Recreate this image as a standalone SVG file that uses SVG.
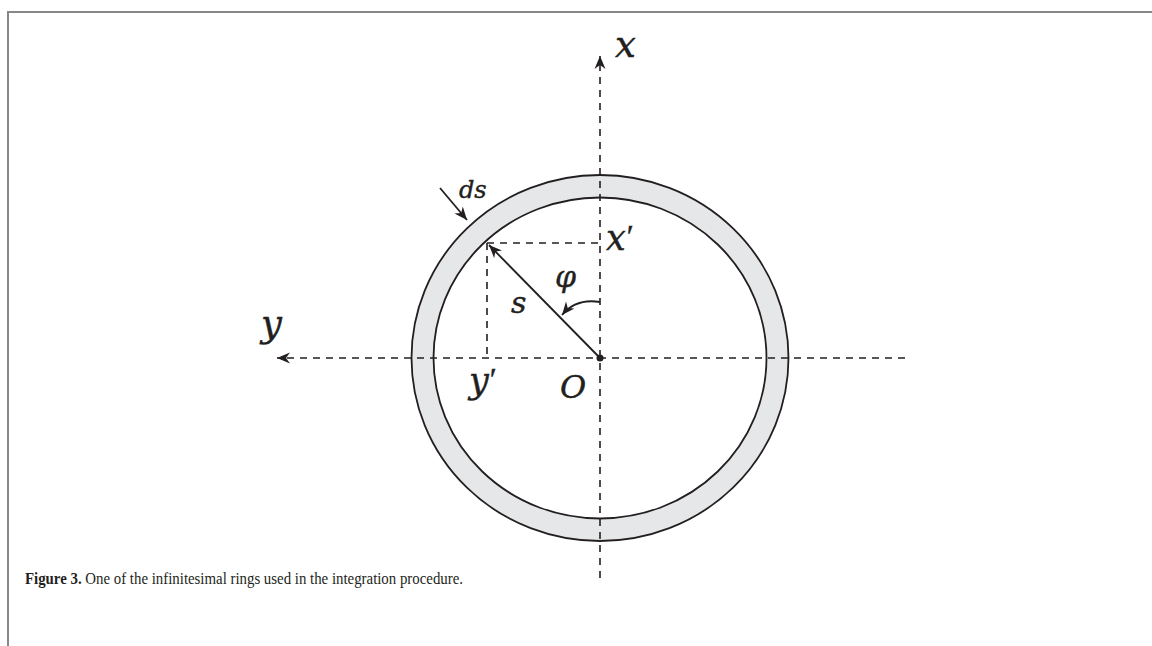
<svg xmlns="http://www.w3.org/2000/svg" width="1152" height="646" viewBox="0 0 1152 646">
<style>
.lbl{font-family:"DejaVu Serif","Liberation Serif",serif;font-style:italic;fill:#231f20;stroke:#231f20;stroke-width:0.4}
.pr{font-family:"Liberation Serif","DejaVu Serif",serif;font-style:normal}
.dash{stroke:#231f20;stroke-width:1.6;stroke-dasharray:7 6;fill:none}
.solid{stroke:#231f20;stroke-width:1.8;fill:none}
.cap{font-family:"Liberation Serif","DejaVu Serif",serif;font-size:16px;fill:#231f20}
</style>
<defs>
<marker id="ah" viewBox="-14 -6 16 12" refX="0" refY="0" markerWidth="16" markerHeight="12" markerUnits="userSpaceOnUse" orient="auto">
<path d="M0,0 L-13,-5.5 L-9,0 L-13,5.5 Z" fill="#231f20"/>
</marker>
</defs>
<rect width="1152" height="646" fill="#fff"/>
<path d="M8,646 V12 H1152" fill="none" stroke="#888" stroke-width="2"/>
<g id="ring">
<path d="M411.5,358 a188.5,183 0 1,0 377,0 a188.5,183 0 1,0 -377,0 Z M433.5,358 a166.5,160.5 0 1,0 333,0 a166.5,160.5 0 1,0 -333,0 Z" fill="#e6e7e8" fill-rule="evenodd"/>
<ellipse cx="600" cy="358" rx="188.5" ry="183" class="solid"/>
<ellipse cx="600" cy="358" rx="166.5" ry="160.5" class="solid"/>
</g>
<g id="connectors">
<line x1="600" y1="578" x2="600" y2="56" class="dash" marker-end="url(#ah)"/>
<line x1="905" y1="358" x2="277" y2="358" class="dash" marker-end="url(#ah)"/>
<line x1="487" y1="243" x2="600" y2="243" class="dash"/>
<line x1="487" y1="243" x2="487" y2="358" class="dash"/>
<line x1="600" y1="358" x2="489" y2="245" class="solid" marker-end="url(#ah)"/>
<path d="M600,302 Q576,298 562,315" class="solid" marker-end="url(#ah)"/>
<line x1="440" y1="188" x2="467" y2="220" class="solid" marker-end="url(#ah)"/>
</g>
<circle id="origin" cx="600" cy="358" r="3.5" fill="#231f20"/>
<g id="labels">
<text class="lbl" x="615" y="57" font-size="37">x</text>
<text class="lbl" x="261" y="336" font-size="37">y</text>
<text class="lbl" x="606" y="250" font-size="35">x<tspan class="pr" dx="1" dy="-3" font-size="32">′</tspan></text>
<text class="lbl" x="469" y="393" font-size="35">y<tspan class="pr" dx="1" dy="-3" font-size="32">′</tspan></text>
<text class="lbl" x="560" y="398" font-size="32">O</text>
<text class="lbl" x="555" y="287" font-size="30">φ</text>
<text class="lbl" x="511" y="313" font-size="30">s</text>
<text class="lbl" x="459" y="198" font-size="24">ds</text>
</g>
<text class="cap" x="25" y="584" textLength="438" lengthAdjust="spacingAndGlyphs"><tspan font-weight="bold">Figure 3.</tspan> One of the infinitesimal rings used in the integration procedure.</text>
</svg>
